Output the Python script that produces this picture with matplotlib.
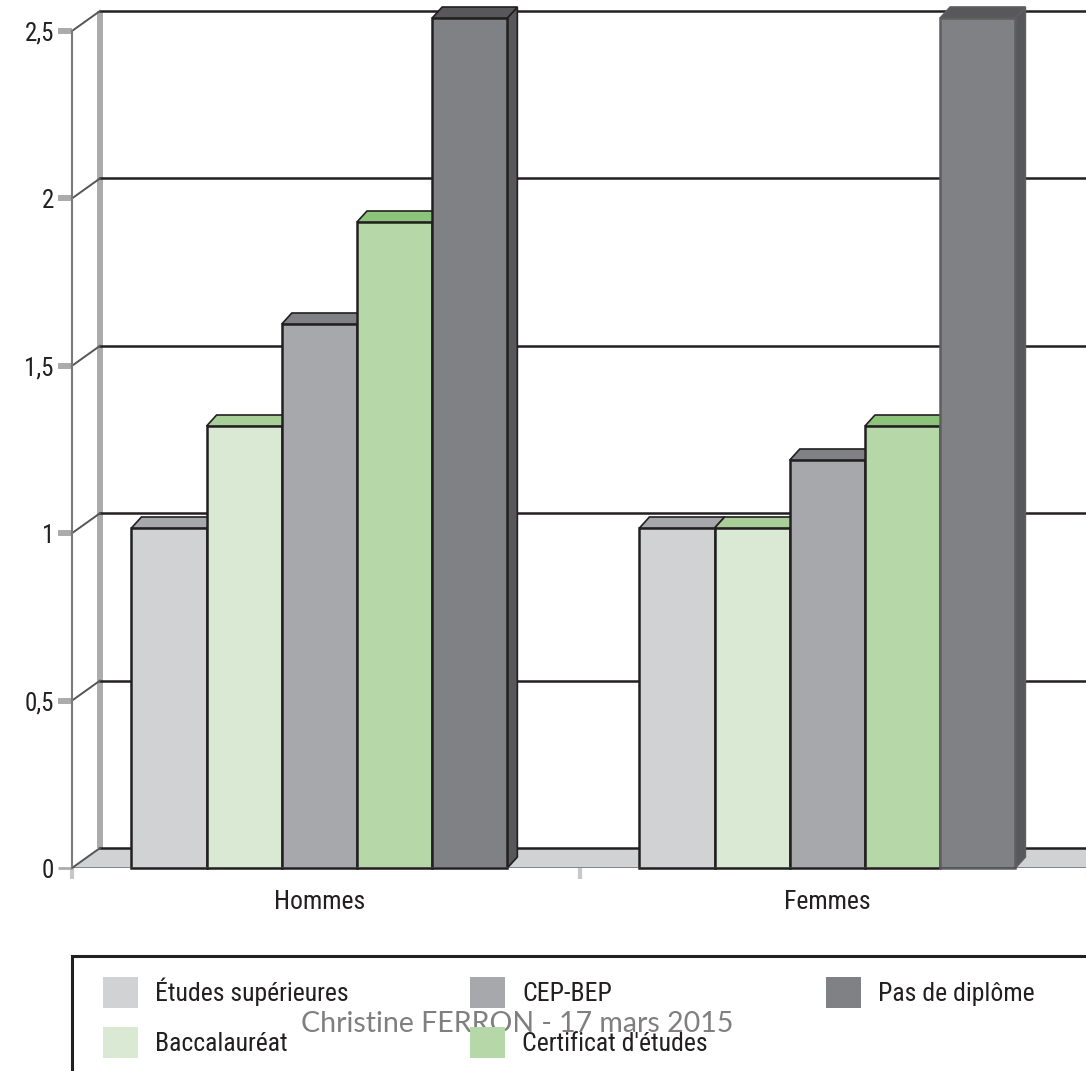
import matplotlib
matplotlib.use('Agg')
import matplotlib.pyplot as plt
from matplotlib.patches import Polygon, Rectangle, Patch

# ---------------- data ----------------
categories = ['Hommes', 'Femmes']
series = ['Études supérieures', 'Baccalauréat', 'CEP-BEP', "Certificat d'études", 'Pas de diplôme']
values_hommes = [1.0, 1.3, 1.6, 1.9, 2.5]
values_femmes = [1.0, 1.0, 1.2, 1.3, 2.5]
yticks = [0, 0.5, 1, 1.5, 2, 2.5]
ytick_labels = ['0', '0,5', '1', '1,5', '2', '2,5']
watermark = 'Christine FERRON - 17 mars 2015'

# ---------------- styles ----------------
front_colors = ['#d1d2d4', '#d9e9d3', '#a7a8ab', '#b6d7a8', '#808184']
top_colors = ['#a7a8ab', '#a9cf98', '#808184', '#8dc47c', '#58585a']
side_colors = ['#a7a8ab', '#a9cf98', '#6f7072', '#8dc47c', '#58585a']
EDGE = '#231f20'
TXT = '#231f20'
COND = ['Roboto Condensed', 'DejaVu Sans']

W, H = 1086, 1071
fig = plt.figure(figsize=(W / 100, H / 100), dpi=100)

L, R, B, T = 72, 1088, 868, 31
rect = [L / W, (H - B) / H, (R - L) / W, (B - T) / H]
ax = fig.add_axes(rect)
ax.set_xlim(-0.5, 1.5)
ax.set_ylim(0, 2.5)
pxx = (R - L) / 2.0
pxy = (B - T) / 2.5
ddx, ddy = 28 / pxx, 20 / pxy

for s in ('top', 'right', 'bottom'):
    ax.spines[s].set_visible(False)
ax.spines['left'].set_color('#7a7a7a')
ax.spines['left'].set_linewidth(1.5)

# floor
ax.add_patch(Polygon([(-0.5, 0), (-0.5 + ddx, ddy), (2.0, ddy), (2.0, 0)], closed=True,
                     facecolor='#d1d2d4', edgecolor='none', zorder=1))
ax.plot([-0.5 + ddx, 2.0], [ddy, ddy], color=EDGE, lw=1.8, zorder=2)
# back wall
ax.plot([-0.5 + ddx] * 2, [ddy, 2.5 + ddy], color='#ababab', lw=4.3, zorder=1.5,
        clip_on=False, solid_capstyle='butt')
for y in yticks[1:]:
    ax.plot([-0.5 + ddx, 2.0], [y + ddy] * 2, color=EDGE, lw=1.8, zorder=2, clip_on=False)
for y in yticks:
    ax.plot([-0.5, -0.5 + ddx], [y, y + ddy], color='#555555', lw=1.4, zorder=2, clip_on=False)

ax.set_yticks(yticks)
ax.set_yticklabels(ytick_labels, family=COND, fontsize=18, color=TXT)
ax.tick_params(axis='y', length=10, width=4.3, color='#ababab', pad=3)
t0 = ax.yaxis.get_major_ticks()[0]
t0.tick1line.set_color(EDGE)
t0.tick1line.set_markeredgewidth(2)

group_shift = -0.013
ax.set_xticks([-0.5, 0.5, 1.5])
ax.set_xticklabels(['', '', ''])
ax.tick_params(axis='x', which='major', length=8, width=3, color='#c8c8c8')
ax.set_xticks([i + group_shift for i in range(len(categories))], minor=True)
ax.set_xticklabels(categories, minor=True, family=COND, fontsize=18.5, color=TXT)
ax.tick_params(axis='x', which='minor', length=0, pad=16)

# bars axes (bars sit a bit deeper in the 3D scene, so their scale is slightly larger)
bar_px = 340.0
ax2 = fig.add_axes(rect, sharex=ax)
ax2.set_ylim(0, (B - T) / bar_px)
ax2.axis('off')
ax2.patch.set_visible(False)
bw = 0.148
bdx, bdy = 10 / pxx, 11 / bar_px
for i, vals in enumerate([values_hommes, values_femmes]):
    for j, v in enumerate(vals):
        x = i + group_shift + (j - 2) * bw
        x0, x1 = x - bw / 2, x + bw / 2
        base = 10 + 3 * j
        edge = EDGE if not (i == 1 and j == 4) else '#5e5e60'
        ax2.add_patch(Polygon([(x1, 0), (x1 + bdx, bdy), (x1 + bdx, v + bdy), (x1, v)], closed=True,
                              facecolor=side_colors[j], edgecolor=edge, lw=1.2, zorder=base,
                              clip_on=False))
        ax2.bar([x], [v], width=bw, color=front_colors[j], edgecolor=edge, linewidth=1.8,
                zorder=base + 1, clip_on=False)
        ax2.add_patch(Polygon([(x0, v), (x0 + bdx, v + bdy), (x1 + bdx, v + bdy), (x1, v)], closed=True,
                              facecolor=top_colors[j], edgecolor=edge, lw=1.2, zorder=base + 2,
                              clip_on=False))
ax2.axhline(0, color='#4a4a4a', alpha=0.75, lw=1.8, zorder=40)

# legend
fig.add_artist(Rectangle((L / W, -0.2), 2.0, (H - 955.5) / H + 0.2, transform=fig.transFigure,
                         facecolor='none', edgecolor=EDGE, lw=2.2, clip_on=False))
fs = 18.5
fs_px = fs * 100 / 72
hh = (31 / fs_px - 0.245) / 0.65
cols = [[0, 1], [2, 3], [4]]
col_x = [103, 470, 826]
for cx, idxs in zip(col_x, cols):
    handles = [Patch(facecolor=front_colors[k], edgecolor='none') for k in idxs]
    fig.legend(handles, [series[k] for k in idxs], loc='upper left',
               bbox_to_anchor=(cx / W, 1 - 977 / H), bbox_transform=fig.transFigure,
               frameon=False, borderpad=0, borderaxespad=0,
               handlelength=35 / fs_px, handleheight=hh, handletextpad=17 / fs_px,
               labelspacing=19 / fs_px, prop=dict(family=COND, size=fs),
               labelcolor=TXT)

fig.text(517 / W, 1 - 1024 / H, watermark, ha='center', va='center', color='#7f7f7f',
         fontsize=20.5, family=['Lato', 'DejaVu Sans'])

fig.savefig('out.png', dpi=100)
